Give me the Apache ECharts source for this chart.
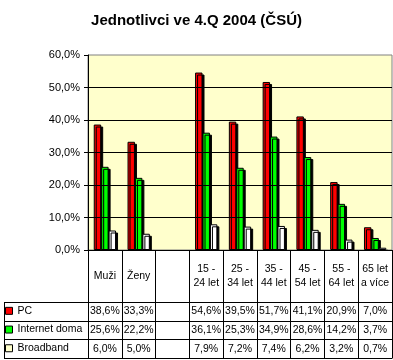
<!DOCTYPE html>
<html>
<head>
<meta charset="utf-8">
<script src="https://cdn.jsdelivr.net/npm/echarts@6/dist/echarts.min.js"></script>
<style>
html,body{margin:0;padding:0;background:#fff;}
#chart{width:393px;height:360px;}
</style>
</head>
<body>
<div id="chart"></div>
<script>
// ---- data ----
const categories = ['Muži', 'Ženy', '', '15 - 24 let', '25 - 34 let', '35 - 44 let', '45 - 54 let', '55 - 64 let', '65 let a více'];
const seriesNames = ['PC', 'Internet doma', 'Broadband'];
const pcValues = [38.6, 33.3, null, 54.6, 39.5, 51.7, 41.1, 20.9, 7.0];
const internetValues = [25.6, 22.2, null, 36.1, 25.3, 34.9, 28.6, 14.2, 3.7];
const broadbandValues = [6.0, 5.0, null, 7.9, 7.2, 7.4, 6.2, 3.2, 0.7];
const yMin = 0, yMax = 60, yInterval = 10;
const titleText = 'Jednotlivci ve 4.Q 2004 (ČSÚ)';

// ---- layout / style ----
const FONT = "'Liberation Sans', Arial, sans-serif";
const W = 393;
const GRID_LEFT = 88, GRID_TOP = 55, GRID_RIGHT = 1, GRID_BOTTOM = 110;
const AXIS_Y = 360 - GRID_BOTTOM;           // y of category axis line
const RIGHT_X = W - GRID_RIGHT;
const HEADER_H = 52;
const ROW_H = 18.7;
const TABLE_LEFT = 4;
const colors = ['#FF0000', '#00FF00', '#FFFFFF'];
const legendColors = ['#FF0000', '#00FF00', '#FFFFCC'];
const allValues = [pcValues, internetValues, broadbandValues];

const fmt = v => (v === null || v === undefined) ? '' : v.toFixed(1).replace('.', ',') + '%';
const wrapCat = s => {
  const w = s.split(' ');
  if (w.length <= 2) return s;
  return w.slice(0, 2).join(' ') + '\n' + w.slice(2).join(' ');
};

const rowTops = [0, 1, 2, 3].map(i => AXIS_Y + HEADER_H + i * ROW_H);
const tableBottom = rowTops[3];

const xAxes = [{
  type: 'category',
  data: categories,
  gridIndex: 0,
  position: 'bottom',
  z: 4,
  axisLine: { show: true, lineStyle: { color: '#000', width: 1 } },
  axisTick: { show: true, length: Math.round(tableBottom - AXIS_Y), lineStyle: { color: '#000', width: 1 } },
  axisLabel: {
    interval: 0, formatter: v => wrapCat(v), verticalAlign: 'middle', margin: HEADER_H / 2,
    lineHeight: 14, fontSize: 10.5, color: '#000', fontFamily: FONT
  },
  splitLine: { show: false }
}];
allValues.forEach((vals, i) => {
  xAxes.push({
    type: 'category',
    data: categories,
    gridIndex: 0,
    position: 'bottom',
    offset: rowTops[i] - AXIS_Y,
    axisLine: { show: false },
    axisTick: { show: false },
    axisLabel: {
      interval: 0, formatter: (v, idx) => fmt(vals[idx]), verticalAlign: 'middle',
      margin: ROW_H / 2, fontSize: 10.5, color: '#000', fontFamily: FONT
    },
    splitLine: { show: false }
  });
});

const series = allValues.map((vals, i) => ({
  name: seriesNames[i],
  type: 'bar',
  xAxisIndex: 0,
  data: vals,
  barGap: '0%',
  barWidth: '22%',
  z: 2,
  itemStyle: {
    color: colors[i], borderColor: '#000', borderWidth: 1,
    shadowColor: '#000', shadowOffsetX: 2, shadowOffsetY: 2, shadowBlur: 0
  },
  emphasis: { disabled: true }
}));

const legends = seriesNames.map((n, i) => ({
  data: [n],
  left: 5,
  top: rowTops[i] + ROW_H / 2 - 6,
  padding: 0,
  orient: 'vertical',
  icon: 'rect',
  itemWidth: 7,
  itemHeight: 7,
  selectedMode: false,
  textStyle: { fontSize: 10.5, color: '#000', fontFamily: FONT },
  itemStyle: { color: legendColors[i], borderColor: '#000', borderWidth: 1, shadowColor: 'transparent', shadowOffsetX: 0, shadowOffsetY: 0, shadowBlur: 0 }
}));

const crisp = v => Math.round(v) + 0.5;
const graphics = [];
rowTops.forEach(y => {
  graphics.push({
    type: 'line', z: 10,
    shape: { x1: TABLE_LEFT, y1: crisp(y), x2: RIGHT_X + 0.5, y2: crisp(y) },
    style: { stroke: '#000', lineWidth: 1 }
  });
});
graphics.push({
  type: 'line', z: 10,
  shape: { x1: TABLE_LEFT + 0.5, y1: crisp(rowTops[0]), x2: TABLE_LEFT + 0.5, y2: crisp(tableBottom) },
  style: { stroke: '#000', lineWidth: 1 }
});
// cover for bar shadows leaking below the category axis
graphics.push({
  type: 'rect', z: 3,
  shape: { x: GRID_LEFT + 1, y: AXIS_Y + 0.5, width: RIGHT_X - GRID_LEFT - 1, height: 3 },
  style: { fill: '#fff' }
});

const option = {
  animation: false,
  backgroundColor: '#fff',
  title: {
    text: titleText, left: 'center', top: 8,
    textStyle: { fontSize: 15, fontWeight: 'bold', color: '#000', fontFamily: FONT }
  },
  legend: legends,
  grid: {
    left: GRID_LEFT, top: GRID_TOP, right: GRID_RIGHT, bottom: GRID_BOTTOM,
    show: true, backgroundColor: '#FFFFCC', borderColor: '#808080', borderWidth: 1
  },
  xAxis: xAxes,
  yAxis: {
    type: 'value', min: yMin, max: yMax, interval: yInterval, z: 4,
    axisLine: { show: true, lineStyle: { color: '#000', width: 1 } },
    axisTick: { show: true, length: 4, lineStyle: { color: '#000' } },
    axisLabel: { formatter: v => fmt(v), fontSize: 11, color: '#000', fontFamily: FONT, margin: 8 },
    splitLine: { show: true, showMaxLine: false, lineStyle: { color: '#000', width: 1 } }
  },
  graphic: graphics,
  series: series
};

const chart = echarts.init(document.getElementById('chart'), null, { renderer: 'canvas' });
chart.setOption(option);
</script>
</body>
</html>
